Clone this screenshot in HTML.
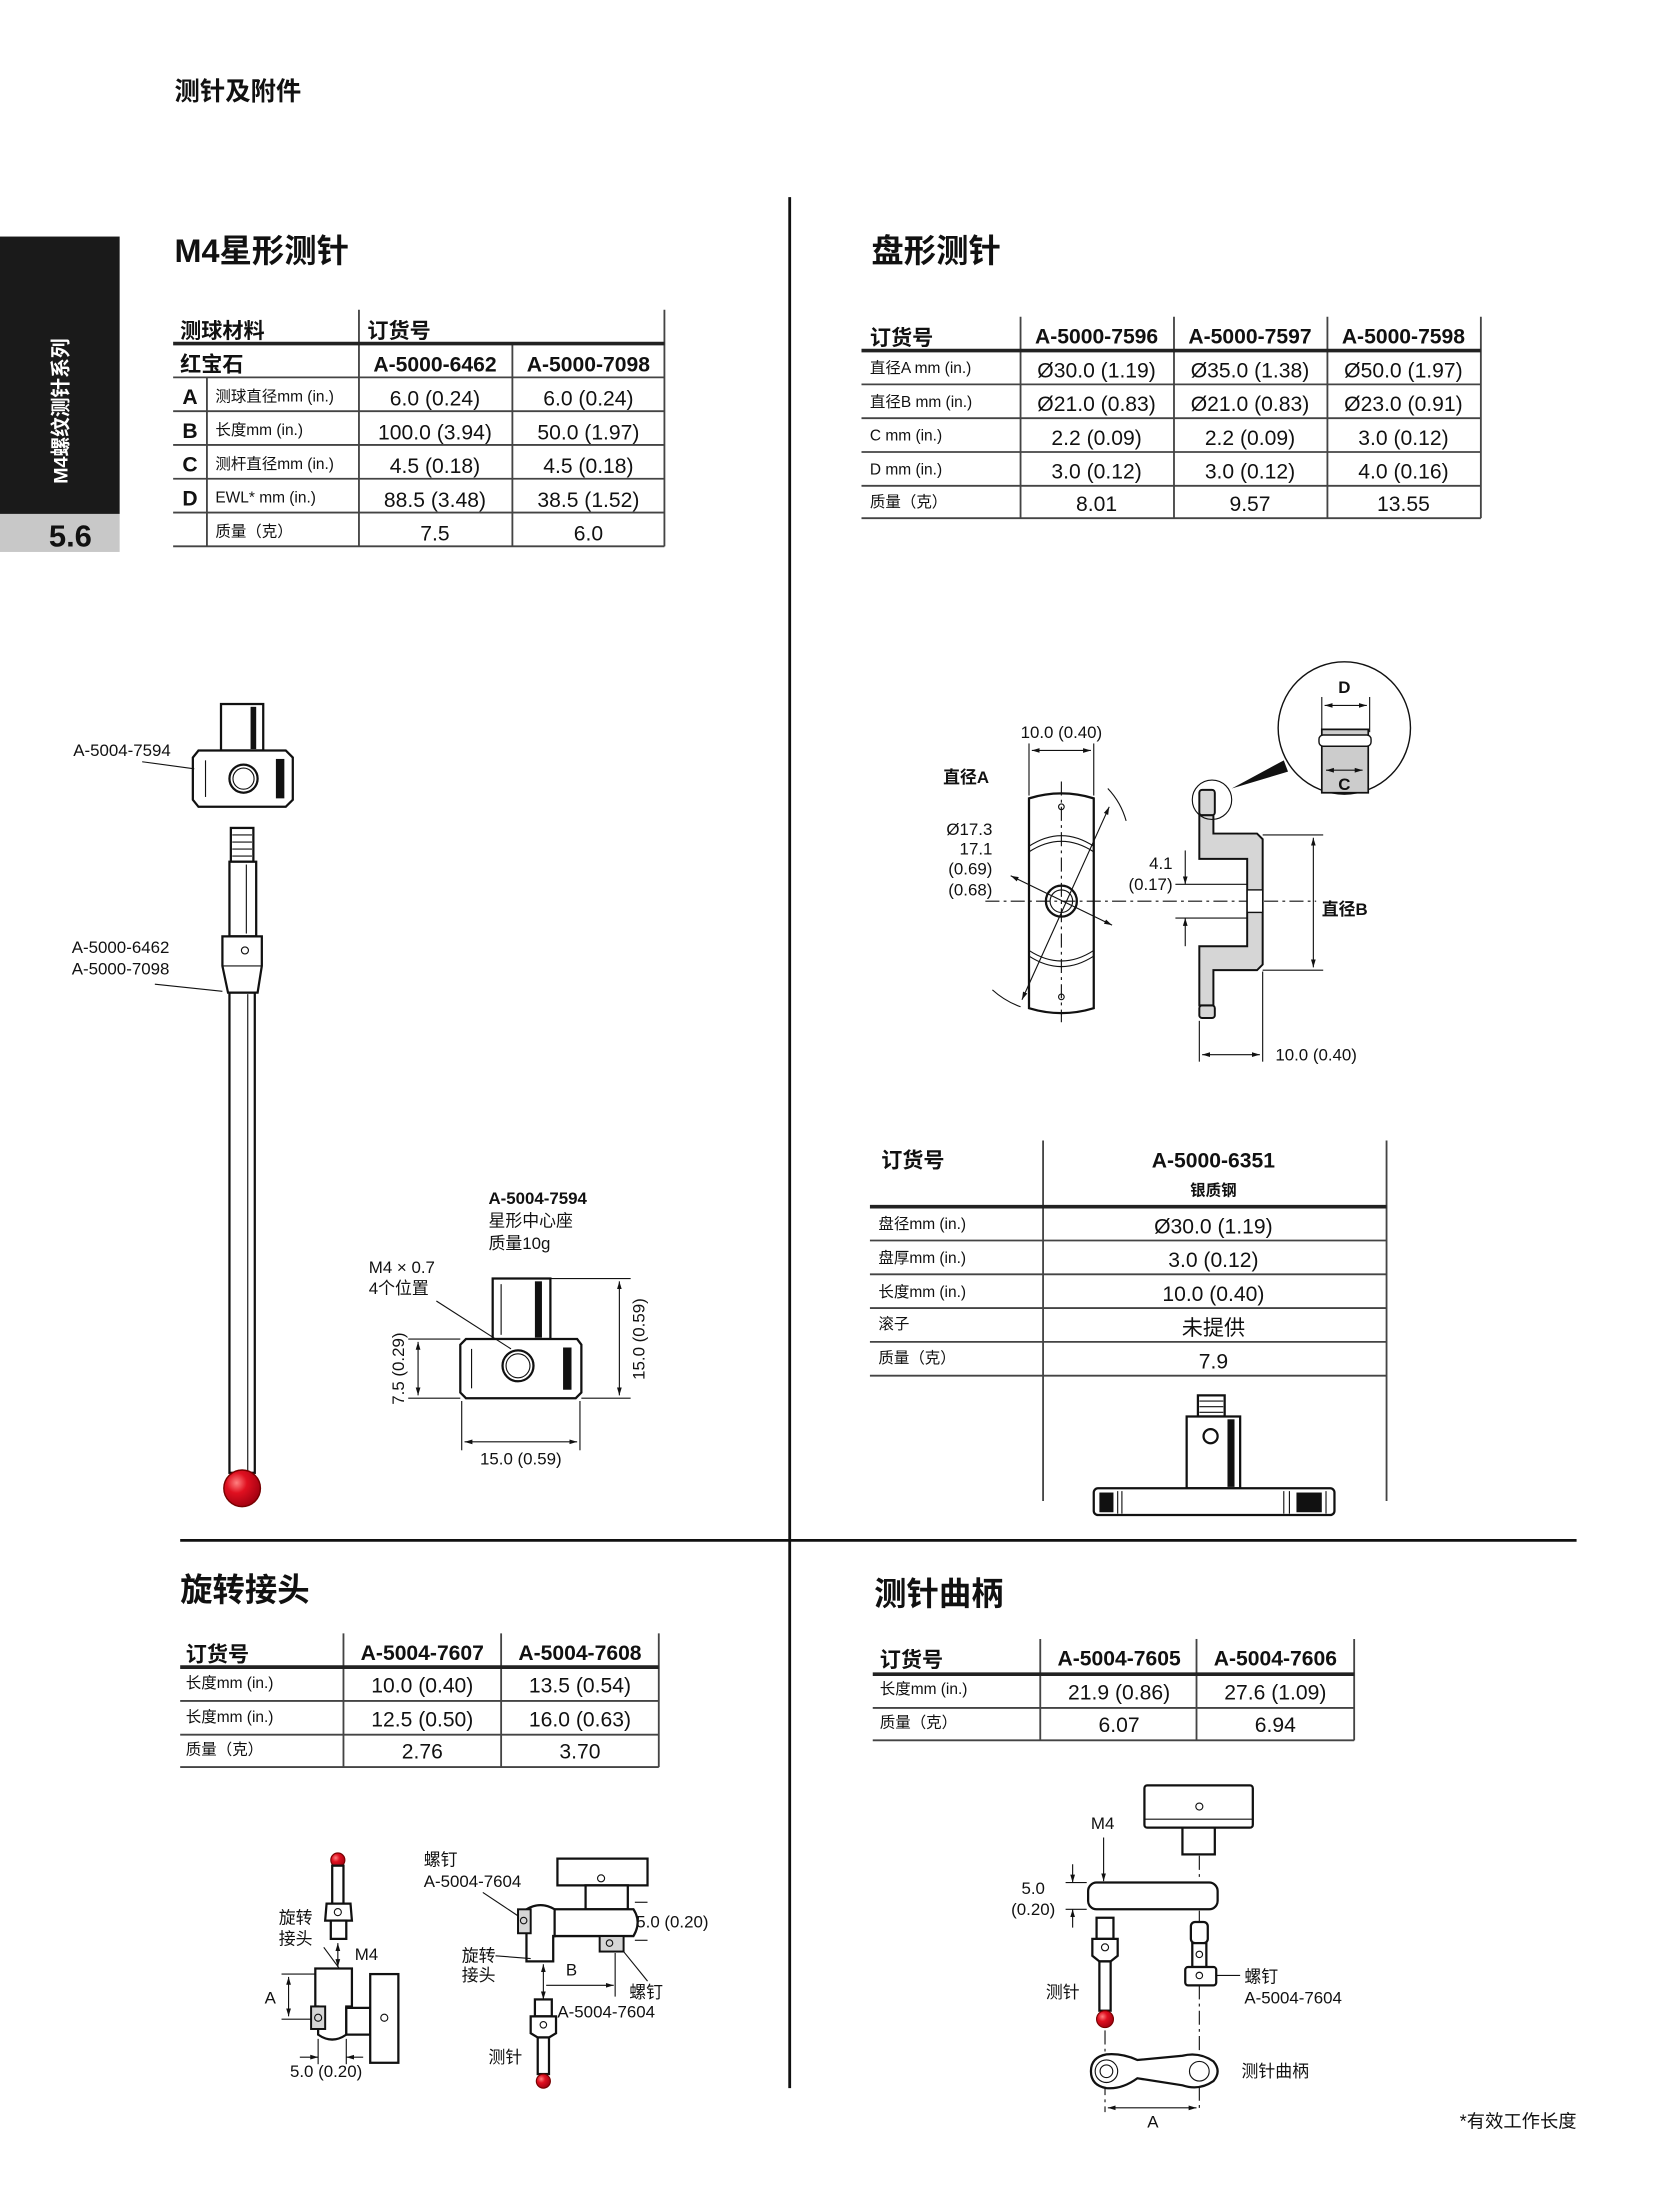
<!DOCTYPE html>
<html><head><meta charset="utf-8"><style>
html,body{margin:0;padding:0;background:#fff}
svg{display:block}
text{font-family:"Liberation Sans","Noto Sans CJK SC",sans-serif;fill:#111}
.b{font-weight:bold}
.t{font-size:15px}
.s{font-size:11px}
.l{font-size:12px}
.ln{stroke:#444;stroke-width:1.3}
.tk{stroke:#222;stroke-width:2.6}
.o{fill:#fff;stroke:#111;stroke-width:1.6}
.g{fill:#d6d6d6;stroke:#111;stroke-width:1.4}
.th{stroke:#111;stroke-width:0.8;fill:none}
.cl{stroke:#111;stroke-width:0.8;stroke-dasharray:10 3 2 3;fill:none}
</style></head><body>
<svg width="1654" height="2205" viewBox="0 0 1175 1566" preserveAspectRatio="none" xmlns="http://www.w3.org/2000/svg">
<defs>
<marker id="ar" viewBox="0 0 10 10" refX="10" refY="5" markerWidth="7" markerHeight="7" orient="auto-start-reverse"><path d="M0,2 L10,5 L0,8 Z" fill="#111"/></marker>
<radialGradient id="rb" cx="0.35" cy="0.35" r="0.7"><stop offset="0" stop-color="#ff8080"/><stop offset="0.4" stop-color="#e01020"/><stop offset="1" stop-color="#a00010"/></radialGradient>
</defs>

<!-- header -->
<text x="124" y="71" class="b" style="font-size:18px">测针及附件</text>

<!-- sidebar -->
<rect x="0" y="168" width="85" height="197" fill="#1a1a1a"/>
<rect x="0" y="365" width="85" height="27" fill="#c8c8c8"/>
<text x="50" y="388" class="b" text-anchor="middle" style="font-size:22px">5.6</text>
<text transform="translate(48,292) rotate(-90)" text-anchor="middle" class="b" style="font-size:14px;fill:#fff">M4螺纹测针系列</text>

<!-- dividers -->
<line x1="561" y1="140" x2="561" y2="1483" stroke="#111" stroke-width="2"/>
<line x1="128" y1="1094" x2="1120" y2="1094" stroke="#111" stroke-width="2"/>

<!-- section titles -->
<text x="124" y="186" class="b" style="font-size:23px">M4星形测针</text>
<text x="619" y="186" class="b" style="font-size:23px">盘形测针</text>
<text x="128" y="1137" class="b" style="font-size:23px">旋转接头</text>
<text x="621" y="1140" class="b" style="font-size:23px">测针曲柄</text>

<!-- ===== Table 1 ===== -->
<g>
<line class="ln" x1="255" y1="220" x2="255" y2="388"/>
<line class="ln" x1="472" y1="220" x2="472" y2="388"/>
<line class="ln" x1="364" y1="244" x2="364" y2="388"/>
<line class="ln" x1="147" y1="268" x2="147" y2="388"/>
<line class="tk" x1="123" y1="244" x2="472" y2="244"/>
<line class="ln" x1="123" y1="268" x2="472" y2="268"/>
<line class="ln" x1="123" y1="292" x2="472" y2="292"/>
<line class="ln" x1="123" y1="316" x2="472" y2="316"/>
<line class="ln" x1="123" y1="340" x2="472" y2="340"/>
<line class="ln" x1="123" y1="364" x2="472" y2="364"/>
<line class="ln" x1="123" y1="388" x2="472" y2="388"/>
<text x="128" y="240" class="b t">测球材料</text>
<text x="261" y="240" class="b t">订货号</text>
<text x="128" y="264" class="b t">红宝石</text>
<text x="309" y="264" class="b t" text-anchor="middle">A-5000-6462</text>
<text x="418" y="264" class="b t" text-anchor="middle">A-5000-7098</text>
<text x="135" y="287" class="b t" text-anchor="middle">A</text>
<text x="135" y="311" class="b t" text-anchor="middle">B</text>
<text x="135" y="335" class="b t" text-anchor="middle">C</text>
<text x="135" y="359" class="b t" text-anchor="middle">D</text>
<text x="153" y="285" class="s">测球直径mm (in.)</text>
<text x="153" y="309" class="s">长度mm (in.)</text>
<text x="153" y="333" class="s">测杆直径mm (in.)</text>
<text x="153" y="357" class="s">EWL* mm (in.)</text>
<text x="153" y="381" class="s">质量（克）</text>
<g class="t" text-anchor="middle">
<text x="309" y="288">6.0 (0.24)</text><text x="418" y="288">6.0 (0.24)</text>
<text x="309" y="312">100.0 (3.94)</text><text x="418" y="312">50.0 (1.97)</text>
<text x="309" y="336">4.5 (0.18)</text><text x="418" y="336">4.5 (0.18)</text>
<text x="309" y="360">88.5 (3.48)</text><text x="418" y="360">38.5 (1.52)</text>
<text x="309" y="384">7.5</text><text x="418" y="384">6.0</text>
</g>
</g>

<!-- ===== Table 2 ===== -->
<g>
<line class="ln" x1="725" y1="225" x2="725" y2="368"/>
<line class="ln" x1="834" y1="225" x2="834" y2="368"/>
<line class="ln" x1="943" y1="225" x2="943" y2="368"/>
<line class="ln" x1="1052" y1="225" x2="1052" y2="368"/>
<line class="tk" x1="612" y1="249" x2="1052" y2="249"/>
<line class="ln" x1="612" y1="273" x2="1052" y2="273"/>
<line class="ln" x1="612" y1="297" x2="1052" y2="297"/>
<line class="ln" x1="612" y1="321" x2="1052" y2="321"/>
<line class="ln" x1="612" y1="345" x2="1052" y2="345"/>
<line class="ln" x1="612" y1="368" x2="1052" y2="368"/>
<text x="618" y="245" class="b t">订货号</text>
<g class="b t" text-anchor="middle"><text x="779" y="244">A-5000-7596</text><text x="888" y="244">A-5000-7597</text><text x="997" y="244">A-5000-7598</text></g>
<text x="618" y="265" class="s">直径A mm (in.)</text>
<text x="618" y="289" class="s">直径B mm (in.)</text>
<text x="618" y="313" class="s">C mm (in.)</text>
<text x="618" y="337" class="s">D mm (in.)</text>
<text x="618" y="360" class="s">质量（克）</text>
<g class="t" text-anchor="middle">
<text x="779" y="268">Ø30.0 (1.19)</text><text x="888" y="268">Ø35.0 (1.38)</text><text x="997" y="268">Ø50.0 (1.97)</text>
<text x="779" y="292">Ø21.0 (0.83)</text><text x="888" y="292">Ø21.0 (0.83)</text><text x="997" y="292">Ø23.0 (0.91)</text>
<text x="779" y="316">2.2 (0.09)</text><text x="888" y="316">2.2 (0.09)</text><text x="997" y="316">3.0 (0.12)</text>
<text x="779" y="340">3.0 (0.12)</text><text x="888" y="340">3.0 (0.12)</text><text x="997" y="340">4.0 (0.16)</text>
<text x="779" y="363">8.01</text><text x="888" y="363">9.57</text><text x="997" y="363">13.55</text>
</g>
</g>

<!-- ===== Table 3 ===== -->
<g>
<line class="ln" x1="741" y1="810" x2="741" y2="1066"/>
<line class="ln" x1="985" y1="810" x2="985" y2="1066"/>
<line class="tk" x1="618" y1="857" x2="985" y2="857"/>
<line class="ln" x1="618" y1="881" x2="985" y2="881"/>
<line class="ln" x1="618" y1="905" x2="985" y2="905"/>
<line class="ln" x1="618" y1="929" x2="985" y2="929"/>
<line class="ln" x1="618" y1="953" x2="985" y2="953"/>
<line class="ln" x1="618" y1="977" x2="985" y2="977"/>
<text x="626" y="829" class="b t">订货号</text>
<text x="862" y="829" class="b t" text-anchor="middle">A-5000-6351</text>
<text x="862" y="849" class="b s" text-anchor="middle">银质钢</text>
<text x="624" y="873" class="s">盘径mm (in.)</text>
<text x="624" y="897" class="s">盘厚mm (in.)</text>
<text x="624" y="921" class="s">长度mm (in.)</text>
<text x="624" y="944" class="s">滚子</text>
<text x="624" y="968" class="s">质量（克）</text>
<g class="t" text-anchor="middle">
<text x="862" y="876">Ø30.0 (1.19)</text>
<text x="862" y="900">3.0 (0.12)</text>
<text x="862" y="924">10.0 (0.40)</text>
<text x="862" y="948">未提供</text>
<text x="862" y="972">7.9</text>
</g>
<rect x="851" y="991" width="19" height="15" class="o"/>
<line class="th" x1="852" y1="995" x2="869" y2="995"/><line class="th" x1="852" y1="999" x2="869" y2="999"/><line class="th" x1="852" y1="1003" x2="869" y2="1003"/>
<rect x="843" y="1006" width="38" height="51" class="o"/>
<rect x="872" y="1008" width="5" height="48" fill="#111"/>
<circle cx="860" cy="1020" r="5" class="o"/>
<rect x="777" y="1057" width="171" height="19" rx="3" class="o"/>
<rect x="781" y="1060" width="10" height="14" fill="#111"/>
<rect x="921" y="1060" width="18" height="14" fill="#111"/>
<line class="th" x1="794" y1="1059" x2="794" y2="1075"/><line class="th" x1="797" y1="1059" x2="797" y2="1075"/>
<line class="th" x1="912" y1="1059" x2="912" y2="1075"/><line class="th" x1="916" y1="1059" x2="916" y2="1075"/><line class="th" x1="942" y1="1059" x2="942" y2="1075"/>
</g>

<!-- ===== Table 4 ===== -->
<g>
<line class="ln" x1="244" y1="1160" x2="244" y2="1255"/>
<line class="ln" x1="356" y1="1160" x2="356" y2="1255"/>
<line class="ln" x1="468" y1="1160" x2="468" y2="1255"/>
<line class="tk" x1="128" y1="1184" x2="468" y2="1184"/>
<line class="ln" x1="128" y1="1208" x2="468" y2="1208"/>
<line class="ln" x1="128" y1="1232" x2="468" y2="1232"/>
<line class="ln" x1="128" y1="1255" x2="468" y2="1255"/>
<text x="132" y="1180" class="b t">订货号</text>
<text x="300" y="1179" class="b t" text-anchor="middle">A-5004-7607</text>
<text x="412" y="1179" class="b t" text-anchor="middle">A-5004-7608</text>
<text x="132" y="1199" class="s">长度mm (in.)</text>
<text x="132" y="1223" class="s">长度mm (in.)</text>
<text x="132" y="1246" class="s">质量（克）</text>
<g class="t" text-anchor="middle">
<text x="300" y="1202">10.0 (0.40)</text><text x="412" y="1202">13.5 (0.54)</text>
<text x="300" y="1226">12.5 (0.50)</text><text x="412" y="1226">16.0 (0.63)</text>
<text x="300" y="1249">2.76</text><text x="412" y="1249">3.70</text>
</g>
</g>

<!-- ===== Table 5 ===== -->
<g>
<line class="ln" x1="739" y1="1164" x2="739" y2="1236"/>
<line class="ln" x1="850" y1="1164" x2="850" y2="1236"/>
<line class="ln" x1="962" y1="1164" x2="962" y2="1236"/>
<line class="tk" x1="620" y1="1189" x2="962" y2="1189"/>
<line class="ln" x1="620" y1="1213" x2="962" y2="1213"/>
<line class="ln" x1="620" y1="1236" x2="962" y2="1236"/>
<text x="625" y="1184" class="b t">订货号</text>
<text x="795" y="1183" class="b t" text-anchor="middle">A-5004-7605</text>
<text x="906" y="1183" class="b t" text-anchor="middle">A-5004-7606</text>
<text x="625" y="1203" class="s">长度mm (in.)</text>
<text x="625" y="1227" class="s">质量（克）</text>
<g class="t" text-anchor="middle">
<text x="795" y="1207">21.9 (0.86)</text><text x="906" y="1207">27.6 (1.09)</text>
<text x="795" y="1230">6.07</text><text x="906" y="1230">6.94</text>
</g>
</g>

<!-- ===== Left stylus drawing ===== -->
<g>
<rect x="157" y="500" width="30" height="33" class="o"/>
<rect x="178" y="502" width="4" height="30" fill="#111"/>
<path d="M141,533 L203,533 L208,538 L208,568 L203,573 L141,573 L137,568 L137,538 Z" class="o"/>
<rect x="196" y="539" width="6" height="28" fill="#111"/>
<line class="th" x1="146" y1="540" x2="146" y2="566"/>
<circle cx="173" cy="553" r="10" class="o"/><circle cx="173" cy="553" r="7.5" class="th"/>
<rect x="164" y="588" width="16" height="24" class="o"/>
<line class="th" x1="165" y1="593" x2="179" y2="593"/><line class="th" x1="165" y1="598" x2="179" y2="598"/><line class="th" x1="165" y1="603" x2="179" y2="603"/><line class="th" x1="165" y1="608" x2="179" y2="608"/>
<rect x="163" y="612" width="19" height="53" class="o"/>
<line class="th" x1="175" y1="614" x2="175" y2="663"/>
<path d="M158,665 L186,665 L186,686 L183,705 L162,705 L158,686 Z" class="o"/>
<line class="th" x1="158" y1="686" x2="186" y2="686"/>
<circle cx="174" cy="675" r="2.5" class="th"/>
<rect x="163" y="705" width="18" height="341" class="o"/>
<line class="th" x1="176" y1="706" x2="176" y2="1045"/>
<circle cx="172" cy="1057" r="13" fill="url(#rb)" stroke="#700" stroke-width="1"/>
<text x="52" y="537" class="l">A-5004-7594</text>
<line class="th" x1="101" y1="541" x2="138" y2="546"/>
<text x="51" y="677" class="l">A-5000-6462</text>
<text x="51" y="692" class="l">A-5000-7098</text>
<line class="th" x1="110" y1="699" x2="158" y2="704"/>
</g>

<!-- ===== Small hub drawing ===== -->
<g>
<text x="347" y="855" class="b l">A-5004-7594</text>
<text x="347" y="871" class="l">星形中心座</text>
<text x="347" y="887" class="l">质量10g</text>
<text x="262" y="904" class="l">M4 × 0.7</text>
<text x="262" y="919" class="l">4个位置</text>
<rect x="350" y="908" width="41" height="43" class="o"/>
<rect x="380" y="910" width="5" height="40" fill="#111"/>
<line class="th" x1="356" y1="912" x2="356" y2="948"/>
<path d="M331,951 L410,951 L413,955 L413,989 L409,993 L331,993 L327,989 L327,955 Z" class="o"/>
<rect x="400" y="957" width="6" height="30" fill="#111"/>
<line class="th" x1="335" y1="958" x2="335" y2="986"/>
<circle cx="368" cy="970" r="11" class="o"/><circle cx="368" cy="970" r="8.5" class="th"/>
<line class="th" x1="310" y1="924" x2="363" y2="958"/>
<line class="th" x1="391" y1="908" x2="448" y2="908"/>
<line class="th" x1="413" y1="993" x2="448" y2="993"/>
<line class="th" x1="440" y1="910" x2="440" y2="991" marker-start="url(#ar)" marker-end="url(#ar)"/>
<text transform="translate(458,951) rotate(-90)" class="l" text-anchor="middle">15.0 (0.59)</text>
<line class="th" x1="290" y1="951" x2="327" y2="951"/>
<line class="th" x1="290" y1="993" x2="327" y2="993"/>
<line class="th" x1="297" y1="953" x2="297" y2="991" marker-start="url(#ar)" marker-end="url(#ar)"/>
<text transform="translate(287,972) rotate(-90)" class="l" text-anchor="middle">7.5 (0.29)</text>
<line class="th" x1="328" y1="995" x2="328" y2="1030"/>
<line class="th" x1="412" y1="995" x2="412" y2="1030"/>
<line class="th" x1="330" y1="1024" x2="410" y2="1024" marker-start="url(#ar)" marker-end="url(#ar)"/>
<text x="370" y="1040" class="l" text-anchor="middle">15.0 (0.59)</text>
</g>

<!-- ===== Disk stylus drawing ===== -->
<g>
<text x="754" y="524" class="l" text-anchor="middle">10.0 (0.40)</text>
<line class="th" x1="731" y1="528" x2="731" y2="565"/>
<line class="th" x1="777" y1="528" x2="777" y2="565"/>
<line class="th" x1="733" y1="533" x2="775" y2="533" marker-start="url(#ar)" marker-end="url(#ar)"/>
<text x="670" y="556" class="b l">直径A</text>
<g class="l" text-anchor="end"><text x="705" y="593">Ø17.3</text><text x="705" y="607">17.1</text><text x="705" y="621">(0.69)</text><text x="705" y="636">(0.68)</text></g>
<path d="M731,567 Q754,560 777,567 L777,716 Q754,723 731,716 Z" class="o"/>
<path d="M731,605 Q754,590 777,605" class="th" stroke-width="1.5"/>
<path d="M731,601 Q754,586 777,601" class="th"/>
<path d="M731,675 Q754,690 777,675" class="th" stroke-width="1.5"/>
<path d="M731,679 Q754,694 777,679" class="th"/>
<circle cx="754" cy="640" r="11" class="o"/><circle cx="754" cy="640" r="8" class="th"/>
<line class="cl" x1="754" y1="555" x2="754" y2="726"/>
<circle cx="754" cy="573" r="2" class="th"/><circle cx="754" cy="708" r="2" class="th"/>
<line class="cl" x1="700" y1="640" x2="935" y2="640"/>
<line class="th" x1="726" y1="710" x2="788" y2="573" marker-start="url(#ar)" marker-end="url(#ar)"/>
<line class="th" x1="718" y1="622" x2="790" y2="657" marker-start="url(#ar)" marker-end="url(#ar)"/>
<path d="M787,560 A55,55 0 0 1 800,583" class="th"/>
<path d="M705,703 A60,60 0 0 0 725,715" class="th"/>
<rect x="852" y="561" width="11" height="18" rx="2" class="g"/>
<rect x="852" y="714" width="11" height="9" rx="2" class="g"/>
<path d="M852,579 L862,579 L862,592 L893,592 L897,596 L897,685 L893,689 L862,689 L862,714 L852,714 L852,672 L886,672 L886,610 L852,610 Z" class="g"/>
<rect x="886" y="632" width="11" height="16" fill="#fff" stroke="#111" stroke-width="1"/>
<text x="833" y="617" class="l" text-anchor="end">4.1</text>
<text x="833" y="632" class="l" text-anchor="end">(0.17)</text>
<line class="th" x1="835" y1="628" x2="886" y2="628"/>
<line class="th" x1="835" y1="652" x2="886" y2="652"/>
<line class="th" x1="842" y1="604" x2="842" y2="628" marker-end="url(#ar)"/>
<line class="th" x1="842" y1="672" x2="842" y2="652" marker-end="url(#ar)"/>
<line class="th" x1="897" y1="593" x2="940" y2="593"/>
<line class="th" x1="897" y1="689" x2="940" y2="689"/>
<line class="th" x1="933" y1="595" x2="933" y2="687" marker-start="url(#ar)" marker-end="url(#ar)"/>
<text x="939" y="650" class="b l">直径B</text>
<line class="th" x1="852" y1="725" x2="852" y2="754"/>
<line class="th" x1="897" y1="690" x2="897" y2="754"/>
<line class="th" x1="854" y1="749" x2="895" y2="749" marker-start="url(#ar)" marker-end="url(#ar)"/>
<text x="906" y="753" class="l">10.0 (0.40)</text>
<circle cx="861" cy="568" r="14" class="th"/>
<path d="M875,560 L912,540 L915,548 Z" fill="#111"/>
<circle cx="955" cy="517" r="47" fill="#fff" stroke="#111" stroke-width="1"/>
<path d="M939,563 L939,518 L972,518 L972,563 Z" fill="#ccc" stroke="#111" stroke-width="1.2"/>
<rect x="937" y="522" width="37" height="8" rx="3" fill="#fff" stroke="#111" stroke-width="1"/>
<line class="th" x1="939" y1="495" x2="939" y2="520"/><line class="th" x1="973" y1="495" x2="973" y2="520"/>
<line class="th" x1="941" y1="501" x2="971" y2="501" marker-start="url(#ar)" marker-end="url(#ar)"/>
<text x="955" y="492" class="b l" text-anchor="middle">D</text>
<line class="th" x1="942" y1="547" x2="968" y2="547" marker-start="url(#ar)" marker-end="url(#ar)"/>
<text x="955" y="561" class="b l" text-anchor="middle">C</text>
</g>

<!-- ===== Swivel drawing (bottom left) ===== -->
<g>
<circle cx="240" cy="1321" r="5" fill="url(#rb)" stroke="#700" stroke-width="0.8"/>
<rect x="236" y="1325" width="8" height="27" class="o"/>
<path d="M232,1352 L249,1352 L250,1364 L231,1364 Z" class="o"/>
<circle cx="240" cy="1358" r="2.5" class="th"/>
<rect x="235" y="1364" width="11" height="13" class="o"/>
<line class="th" x1="240" y1="1380" x2="240" y2="1397" marker-start="url(#ar)" marker-end="url(#ar)"/>
<text x="252" y="1392" class="l">M4</text>
<text x="198" y="1366" class="l">旋转</text>
<text x="198" y="1381" class="l">接头</text>
<line class="th" x1="230" y1="1383" x2="244" y2="1402"/>
<path d="M224,1398 L250,1398 L250,1425 L246,1425 L246,1445 Q236,1452 226,1445 L226,1425 L224,1425 Z" class="o"/>
<rect x="221" y="1425" width="10" height="16" class="g"/>
<circle cx="226" cy="1433" r="2.5" class="th"/>
<rect x="246" y="1426" width="17" height="19" class="o"/>
<rect x="263" y="1402" width="20" height="63" class="o"/>
<circle cx="273" cy="1433" r="2.5" class="th"/>
<line class="th" x1="200" y1="1402" x2="224" y2="1402"/>
<line class="th" x1="200" y1="1434" x2="221" y2="1434"/>
<line class="th" x1="205" y1="1404" x2="205" y2="1432" marker-start="url(#ar)" marker-end="url(#ar)"/>
<text x="188" y="1423" class="l">A</text>
<line class="th" x1="226" y1="1448" x2="226" y2="1466"/><line class="th" x1="246" y1="1448" x2="246" y2="1466"/>
<line class="th" x1="213" y1="1461" x2="226" y2="1461" marker-end="url(#ar)"/>
<line class="th" x1="258" y1="1461" x2="246" y2="1461" marker-end="url(#ar)"/>
<text x="206" y="1475" class="l">5.0 (0.20)</text>

<text x="301" y="1325" class="l">螺钉</text>
<text x="301" y="1340" class="l">A-5004-7604</text>
<line class="th" x1="343" y1="1344" x2="370" y2="1362"/>
<rect x="396" y="1320" width="64" height="19" class="o"/>
<circle cx="427" cy="1334" r="2.5" class="th"/>
<rect x="416" y="1339" width="30" height="17" class="o"/>
<path d="M386,1356 L450,1356 Q456,1365 450,1375 L386,1375 Z" class="o"/>
<path d="M374,1356 Q384,1350 394,1356 L394,1375 L393,1375 L393,1393 L374,1393 L374,1356 Z" class="o"/>
<rect x="368" y="1356" width="9" height="17" class="g"/>
<circle cx="372" cy="1364" r="2.3" class="th"/>
<rect x="426" y="1375" width="17" height="11" class="g"/>
<circle cx="433" cy="1380" r="2.3" class="th"/>
<line class="th" x1="451" y1="1351" x2="460" y2="1351"/><line class="th" x1="451" y1="1378" x2="460" y2="1378"/>
<text x="452" y="1369" class="l">5.0 (0.20)</text>
<text x="328" y="1393" class="l">旋转</text>
<text x="328" y="1407" class="l">接头</text>
<line class="th" x1="352" y1="1389" x2="377" y2="1391"/>
<text x="402" y="1403" class="l">B</text>
<line class="th" x1="437" y1="1387" x2="437" y2="1418"/>
<line class="th" x1="386" y1="1395" x2="386" y2="1420" marker-start="url(#ar)" marker-end="url(#ar)"/>
<line class="th" x1="388" y1="1410" x2="436" y2="1410" marker-end="url(#ar)"/>
<line class="th" x1="443" y1="1386" x2="460" y2="1407"/>
<text x="447" y="1419" class="l">螺钉</text>
<text x="396" y="1433" class="l">A-5004-7604</text>
<rect x="380" y="1420" width="12" height="12" class="o"/>
<path d="M377,1432 L395,1432 L395,1444 L390,1447 L382,1447 L377,1444 Z" class="o"/>
<circle cx="386" cy="1438" r="2.3" class="th"/>
<rect x="382" y="1447" width="8" height="26" class="o"/>
<circle cx="386" cy="1478" r="5" fill="url(#rb)" stroke="#700" stroke-width="0.8"/>
<text x="347" y="1465" class="l">测针</text>
</g>

<!-- ===== Crank drawing (bottom right) ===== -->
<g>
<rect x="813" y="1268" width="77" height="30" rx="2" class="o"/>
<line class="th" x1="813" y1="1292" x2="890" y2="1292"/>
<circle cx="852" cy="1283" r="2.5" class="th"/>
<rect x="840" y="1298" width="23" height="19" class="o"/>
<line class="cl" x1="852" y1="1318" x2="852" y2="1335"/>
<text x="775" y="1299" class="l">M4</text>
<line class="th" x1="784" y1="1305" x2="784" y2="1336" marker-end="url(#ar)"/>
<rect x="773" y="1337" width="92" height="19" rx="6" class="o"/>
<line class="th" x1="757" y1="1337" x2="772" y2="1337"/><line class="th" x1="757" y1="1356" x2="772" y2="1356"/>
<line class="th" x1="762" y1="1324" x2="762" y2="1337" marker-end="url(#ar)"/>
<line class="th" x1="762" y1="1369" x2="762" y2="1356" marker-end="url(#ar)"/>
<text x="734" y="1345" class="l" text-anchor="middle">5.0</text>
<text x="734" y="1360" class="l" text-anchor="middle">(0.20)</text>
<rect x="779" y="1362" width="12" height="15" class="o"/>
<path d="M776,1377 L794,1377 L794,1389 L789,1393 L781,1393 L776,1389 Z" class="o"/>
<circle cx="785" cy="1383" r="2.5" class="th"/>
<rect x="781" y="1393" width="8" height="35" class="o"/>
<circle cx="785" cy="1434" r="6" fill="url(#rb)" stroke="#700" stroke-width="0.8"/>
<text x="743" y="1419" class="l">测针</text>
<line class="cl" x1="852" y1="1357" x2="852" y2="1365"/>
<rect x="846" y="1365" width="12" height="15" rx="3" class="o"/>
<rect x="847" y="1380" width="10" height="17" class="o"/>
<circle cx="852" cy="1388" r="2.3" class="th"/>
<rect x="842" y="1397" width="22" height="13" rx="2" class="o"/>
<circle cx="852" cy="1403" r="2.3" class="th"/>
<line class="th" x1="864" y1="1403" x2="881" y2="1403"/>
<text x="884" y="1408" class="l">螺钉</text>
<text x="884" y="1423" class="l">A-5004-7604</text>
<line class="cl" x1="785" y1="1442" x2="785" y2="1500"/>
<line class="cl" x1="852" y1="1410" x2="852" y2="1500"/>
<path d="M786,1459 Q797,1458 808,1463 L840,1460 Q852,1457 862,1464 Q868,1471 862,1478 Q852,1485 840,1481 L808,1476 Q797,1484 786,1483 Q775,1481 775,1471 Q775,1461 786,1459 Z" class="o"/>
<circle cx="786" cy="1471" r="8" class="th"/><circle cx="786" cy="1471" r="4.5" class="th"/>
<circle cx="852" cy="1471" r="7" class="th"/>
<text x="882" y="1475" class="l">测针曲柄</text>
<line class="th" x1="787" y1="1497" x2="850" y2="1497" marker-start="url(#ar)" marker-end="url(#ar)"/>
<text x="819" y="1511" class="l" text-anchor="middle">A</text>
</g>

<text x="1120" y="1511" class="l" text-anchor="end" style="font-size:13px">*有效工作长度</text>
</svg>
</body></html>
